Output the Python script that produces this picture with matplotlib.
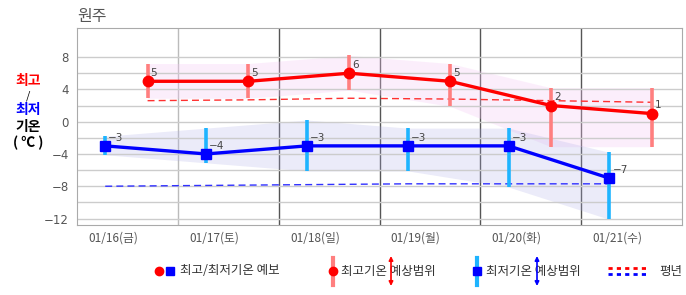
import matplotlib
matplotlib.use("Agg")
import matplotlib.pyplot as plt
import numpy as np

plt.rcParams['font.family'] = ['Noto Sans CJK KR', 'DejaVu Sans']

days = ["01/16(금)", "01/17(토)", "01/18(일)", "01/19(월)", "01/20(화)", "01/21(수)"]
t_max = [5, 5, 6, 5, 2, 1]
t_min = [-3, -4, -3, -3, -3, -7]
max_hi = [7.2, 7.2, 8.2, 7.2, 4.2, 4.2]
max_lo = [2.9, 2.9, 3.9, 1.9, -3.1, -3.1]
min_hi = [-1.8, -0.8, 0.2, -0.8, -0.8, -3.8]
min_lo = [-4.1, -5.1, -6.1, -6.1, -8.1, -12.1]
norm_max = [2.6, 2.7, 2.9, 2.8, 2.6, 2.4]
norm_min = [-8.0, -7.9, -7.8, -7.7, -7.7, -7.7]

W, H = 686, 295
fig = plt.figure(figsize=(W / 100, H / 100), dpi=100)
ax = fig.add_axes([77 / W, 1 - 225 / H, 605 / W, 197 / H])

idx = np.arange(len(days))
xa = idx + 0.28   # AM (min)
xp = idx + 0.70   # PM (max)

# bands
ax.fill_between(xp, max_lo, max_hi, color='#f5c8f5', alpha=0.3, lw=0, zorder=1)
ax.fill_between(xa, min_lo, min_hi, color='#b0b0e8', alpha=0.25, lw=0, zorder=1)

# normals
ax.plot(xp, norm_max, color='#ff3030', lw=1, ls=(0, (5, 3)), zorder=2)
ax.plot(xa, norm_min, color='#3030ff', lw=1, ls=(0, (5, 3)), zorder=2)

# range bars
ax.vlines(xp, max_lo, max_hi, color='#ff7f7f', lw=2.6, zorder=3)
ax.vlines(xa, min_lo, min_hi, color='#1eb4ff', lw=2.6, zorder=3)

# forecasts
ax.plot(xp, t_max, color='#ff0000', lw=2.4, marker='o', ms=7.5, zorder=4)
ax.plot(xa, t_min, color='#0000ff', lw=2.4, marker='s', ms=7, zorder=4)

for x, v in zip(xp, t_max):
    ax.annotate(str(v), (x, v), xytext=(2.2, 6), textcoords='offset points',
                ha='left', va='center', fontsize=7.5, color='#444444',
                family=['DejaVu Sans'], zorder=5)
for x, v in zip(xa, t_min):
    ax.annotate(str(v).replace('-', '\u2212'), (x, v), xytext=(2.2, 6),
                textcoords='offset points', ha='left', va='center',
                fontsize=7.5, color='#444444', family=['DejaVu Sans'], zorder=5)

ax.set_xlim(0, 6)
ax.set_ylim(-12.8, 11.6)
ax.set_yticks(np.arange(-12, 9, 4))
ax.set_yticklabels([str(v).replace('-', '\u2212') for v in range(-12, 9, 4)],
                   family=['DejaVu Sans'])
ax.set_yticks(np.arange(-12, 9, 2), minor=True)
ax.set_xticks(idx + 0.36)
ax.set_xticklabels(days)
ax.tick_params(which='both', length=0, labelsize=8.5, colors='#555555', pad=5)
ax.tick_params(axis='y', pad=6)
ax.grid(axis='y', which='both', color='#cccccc', lw=1, zorder=0)
for d in range(1, 6):
    ax.axvline(d, color='#bbbbbb' if d == 1 else '#555555', lw=1, zorder=0)
for s in ax.spines.values():
    s.set_color('#aaaaaa')

# overlay in pixel coords for labels and legend
ov = fig.add_axes([0, 0, 1, 1], facecolor='none')
ov.set_xlim(0, W)
ov.set_ylim(H, 0)
ov.axis('off')

ov.text(77, 16, "원주", fontsize=11.5, color='#555555', va='center', ha='left')
ov.text(28, 81, "최고", fontsize=10, weight='bold', color='#ff0000', ha='center', va='center')
ov.text(28, 96, "/", fontsize=8, color='#000000', ha='center', va='center')
ov.text(28, 110, "최저", fontsize=10, weight='bold', color='#0000ff', ha='center', va='center')
ov.text(28, 127, "기온", fontsize=10, weight='bold', color='#000000', ha='center', va='center')
ov.text(28, 143, "( ℃ )", fontsize=10, weight='bold', color='#000000', ha='center', va='center')

ly = 271
ov.plot([159], [ly], 'o', color='#ff0000', ms=6)
ov.plot([170], [ly], 's', color='#0000ff', ms=6)
ov.text(180, ly, "최고/최저기온 예보", fontsize=9, color='#333333', va='center')

ov.plot([333, 333], [258, 285], color='#ff7f7f', lw=3)
ov.plot([333], [ly], 'o', color='#ff0000', ms=6)
ov.text(341, ly, "최고기온 예상범위", fontsize=9, color='#333333', va='center')
ov.annotate('', xy=(391, 256), xytext=(391, 286),
            arrowprops=dict(arrowstyle='<|-|>', color='#ff0000', lw=1.2,
                            mutation_scale=6, shrinkA=0, shrinkB=0))

ov.plot([477, 477], [258, 285], color='#1eb4ff', lw=3)
ov.plot([477], [ly], 's', color='#0000ff', ms=6)
ov.text(486, ly, "최저기온 예상범위", fontsize=9, color='#333333', va='center')
ov.annotate('', xy=(537, 256), xytext=(537, 286),
            arrowprops=dict(arrowstyle='<|-|>', color='#0000ff', lw=1.2,
                            mutation_scale=6, shrinkA=0, shrinkB=0))

ov.plot([608, 647], [268, 268], color='#ff0000', lw=2, ls=(0, (1.5, 1.5)))
ov.plot([608, 647], [274, 274], color='#0000ff', lw=2, ls=(0, (1.5, 1.5)))
ov.text(659, ly, "평년", fontsize=9, color='#333333', va='center')

fig.savefig("out.png", dpi=100)
